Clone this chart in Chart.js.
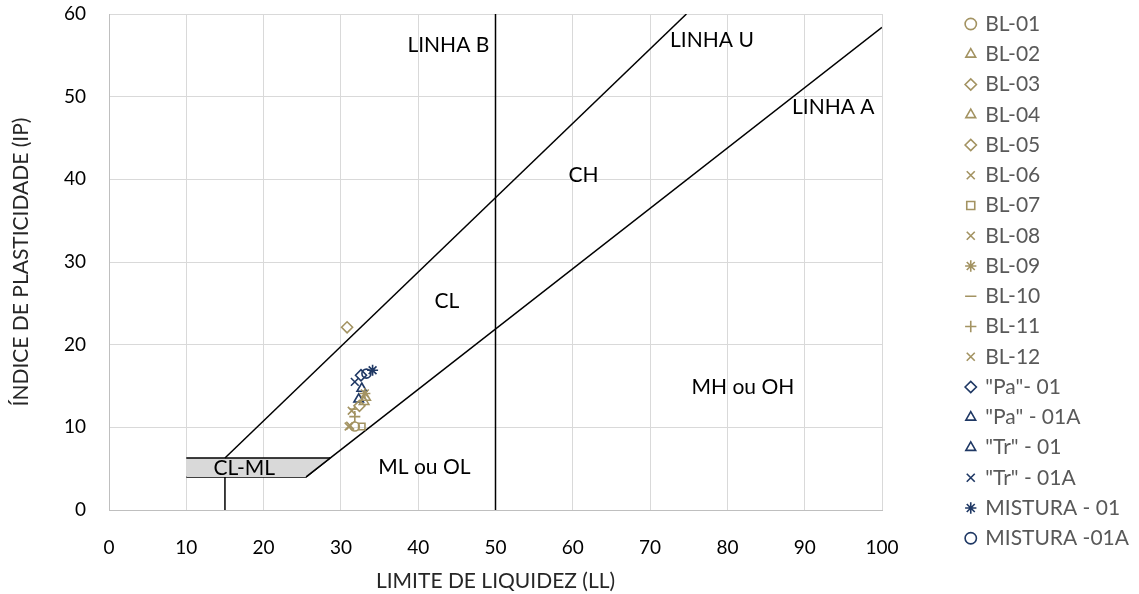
<!DOCTYPE html>
<html>
<head>
<meta charset="utf-8">
<title>Carta de Plasticidade</title>
<script src="https://cdn.jsdelivr.net/npm/chart.js@4"></script>
<style>
  html, body { margin: 0; padding: 0; background: #fff; }
  #wrap { position: relative; width: 1139px; height: 594px; }
</style>
</head>
<body>
<div id="wrap"><canvas id="chart"></canvas></div>
<script>
// amostras: limite de liquidez (LL) x índice de plasticidade (IP)
const sampleNames = ['BL-01', 'BL-02', 'BL-03', 'BL-04', 'BL-05', 'BL-06', 'BL-07', 'BL-08',
  'BL-09', 'BL-10', 'BL-11', 'BL-12', '"Pa"- 01', '"Pa" - 01A', '"Tr" - 01', '"Tr" - 01A',
  'MISTURA - 01', 'MISTURA -01A'];
const liquidLimit = [31.8, 33.0, 30.8, 33.2, 32.4, 31.0, 32.7, 31.2, 33.1, 31.6, 31.8, 31.4,
  32.6, 32.7, 32.3, 31.8, 34.1, 33.3];
const plasticityIndex = [10.1, 13.1, 22.1, 13.6, 12.6, 10.1, 10.1, 10.2, 14.1, 12.2, 11.3, 12.0,
  16.3, 14.7, 13.4, 15.5, 16.9, 16.5];

// linhas da carta de Casagrande (LL, IP)
const lineA = [[25.5, 4], [100, 58.4]];
const lineU = [[15, 6.3], [74.7, 60]];
const lineB = [[50, 0], [50, 60]];
const clmlStem = [[15, 0], [15, 4]];
const clmlTop = [[10, 6.3], [28.6, 6.3]];
const clmlBottom = [[10, 4], [25.5, 4], [28.6, 6.3]];

// rótulos das zonas
const zoneLabels = ['LINHA B', 'LINHA U', 'LINHA A', 'CH', 'CL', 'MH ou OH', 'ML ou OL', 'CL-ML'];
const zoneLabelLL = [43.9, 78.0, 93.7, 61.4, 43.7, 82.0, 40.8, 17.5];
const zoneLabelIP = [56.2, 56.8, 48.7, 40.5, 25.2, 14.8, 5.2, 5.1];

const gold = '#a39362';
const navy = '#1f3864';
const markerStyles = ['circle', 'triangle', 'rectRot', 'triangle', 'rectRot', 'crossRot', 'rect',
  'crossRot', 'star', 'line', 'cross', 'crossRot', 'rectRot', 'triangle', 'triangle', 'crossRot',
  'star', 'circle'];
const markerSizes = { circle: 4.5, triangle: 5.5, rectRot: 5.5, crossRot: 5.5, rect: 4.5, star: 5.5, line: 3.5, cross: 5.5 };

const FONT = 'Lato';
const legendFontSize = 21;
const legendPad = 9.25;
const legendBox = 8;
const plotRight = 882;

// largura da legenda, medida pelo texto mais longo
const probe = document.createElement('canvas').getContext('2d');
probe.font = legendFontSize + 'px ' + FONT;
const longest = Math.max(...sampleNames.map(n => probe.measureText(n).width));
const legendWidth = legendPad + legendBox + legendFontSize / 2 + longest + 10;
const rightPad = Math.max(0, 1139 - 958.75 - legendWidth);
const gapWidth = 1139 - rightPad - legendWidth - plotRight;

const toXY = pts => pts.map(p => ({ x: p[0], y: p[1] }));

const sampleSets = sampleNames.map((name, i) => ({
  label: name,
  data: [{ x: liquidLimit[i], y: plasticityIndex[i] }],
  pointStyle: markerStyles[i],
  pointRadius: markerSizes[markerStyles[i]],
  pointHoverRadius: markerSizes[markerStyles[i]],
  borderColor: i < 12 ? gold : navy,
  backgroundColor: 'rgba(255,255,255,0)',
  borderWidth: 1.6,
  showLine: false
}));

const guide = (pts, extra) => Object.assign({
  data: toXY(pts),
  showLine: true,
  pointRadius: 0,
  borderColor: '#000',
  borderWidth: 1.5,
  fill: false
}, extra || {});

const guideSets = [
  guide(lineA),
  guide(lineU),
  guide(lineB),
  guide(clmlStem),
  guide(clmlTop, { fill: '+1', backgroundColor: '#d9d9d9' }),
  guide(clmlBottom)
];

const zoneText = {
  id: 'zoneText',
  afterDatasetsDraw(chart) {
    const { ctx, scales: { x, y } } = chart;
    ctx.save();
    ctx.font = '21px ' + FONT;
    ctx.fillStyle = '#000';
    ctx.textAlign = 'center';
    ctx.textBaseline = 'middle';
    zoneLabels.forEach((t, i) => {
      ctx.fillText(t, x.getPixelForValue(zoneLabelLL[i]), y.getPixelForValue(zoneLabelIP[i]));
    });
    ctx.restore();
  }
};

new Chart(document.getElementById('chart'), {
  type: 'scatter',
  data: { datasets: sampleSets.concat(guideSets) },
  plugins: [zoneText],
  options: {
    responsive: true,
    maintainAspectRatio: false,
    animation: false,
    layout: { padding: { left: 9, top: 4.25, right: rightPad, bottom: 0 } },
    plugins: {
      tooltip: { enabled: false },
      legend: {
        position: 'right',
        align: 'start',
        labels: {
          filter: item => item.datasetIndex < sampleNames.length,
          usePointStyle: true,
          boxWidth: legendBox,
          boxHeight: legendBox,
          padding: legendPad,
          color: '#595959',
          font: { family: FONT, size: legendFontSize }
        }
      }
    },
    scales: {
      x: {
        type: 'linear',
        min: 0,
        max: 100,
        ticks: { stepSize: 10, padding: 1, color: '#000', font: { family: FONT, size: 19 } },
        grid: { color: '#d9d9d9', tickLength: 25, tickColor: 'rgba(0,0,0,0)' },
        border: { color: '#bfbfbf' },
        title: { display: true, text: 'LIMITE DE LIQUIDEZ (LL)', color: '#262626',
          font: { family: FONT, size: 21 }, padding: { top: 0, bottom: 0 } },
        afterFit: s => { s.height = 84; }
      },
      y: {
        type: 'linear',
        min: 0,
        max: 60,
        ticks: { stepSize: 10, padding: 1, color: '#000',
          font: { family: FONT, size: 19, lineHeight: '26px' } },
        grid: { color: '#d9d9d9', tickLength: 22, tickColor: 'rgba(0,0,0,0)' },
        border: { color: '#bfbfbf' },
        title: { display: true, text: 'ÍNDICE DE PLASTICIDADE (IP)', color: '#262626',
          font: { family: FONT, size: 21 }, padding: { top: 0, bottom: 0 } },
        afterFit: s => { s.width = 100; }
      },
      yRight: {
        type: 'linear', position: 'right', min: 0, max: 60,
        ticks: { display: false }, grid: { display: false }, border: { display: false },
        afterFit: s => { s.width = gapWidth; }
      }
    }
  }
});
</script>
</body>
</html>
